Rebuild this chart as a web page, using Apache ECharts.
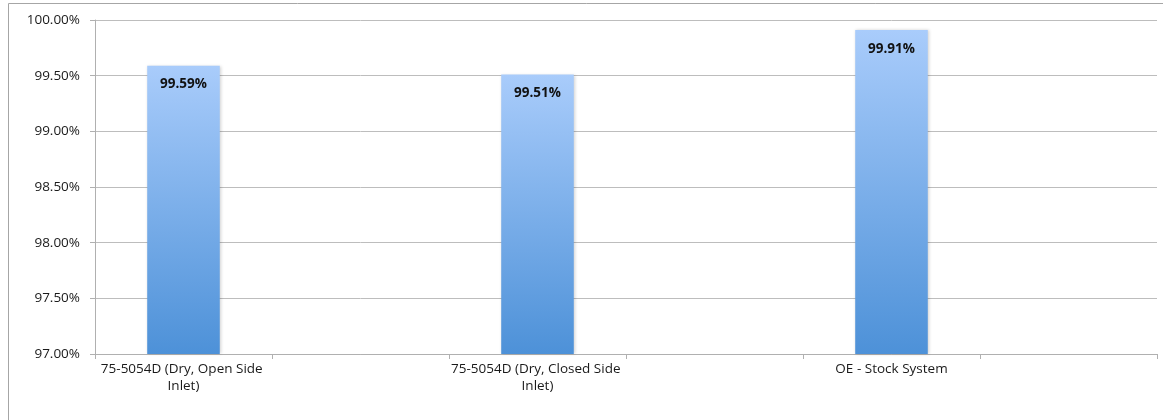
<!DOCTYPE html>
<html>
<head>
<meta charset="utf-8">
<script src="https://cdn.jsdelivr.net/npm/echarts@6/dist/echarts.min.js"></script>
<style>
  html, body { margin: 0; padding: 0; background: #fff; }
  #chart { width: 1163px; height: 420px; }
</style>
</head>
<body>
<div id="chart"></div>
<script>
// Categories: spacer slots keep each bar centred in a wide band
const categories = ['75-5054D (Dry, Open Side Inlet)', '', '75-5054D (Dry, Closed Side Inlet)', '', 'OE - Stock System', ''];
const values = [99.59, null, 99.51, null, 99.91, null];
const yTicks = { min: 97, max: 100, step: 0.5 };

const font = '"Open Sans", "Liberation Sans", sans-serif';
const chart = echarts.init(document.getElementById('chart'), null, { renderer: 'canvas' });

chart.setOption({
  animation: false,
  graphic: [{
    type: 'rect',
    shape: { x: 8.5, y: 3.5, width: 1200, height: 500 },
    style: { fill: 'none', stroke: '#a6a6a6', lineWidth: 1 },
    silent: true,
    z: -1
  }],
  grid: { left: 95, top: 20, width: 1062, height: 334, containLabel: false },
  xAxis: {
    type: 'category',
    data: categories,
    boundaryGap: true,
    axisLine: { lineStyle: { color: '#b0b0b0', width: 1 } },
    axisTick: { show: true, interval: 0, length: 5, lineStyle: { color: '#b0b0b0' } },
    axisLabel: {
      interval: 0,
      margin: 7,
      width: 178,
      overflow: 'break',
      lineHeight: 17,
      fontSize: 13.5,
      fontFamily: font,
      color: '#1a1a1a'
    },
    splitLine: { show: false }
  },
  yAxis: {
    type: 'value',
    min: yTicks.min,
    max: yTicks.max,
    interval: yTicks.step,
    axisLine: { show: true, lineStyle: { color: '#b0b0b0', width: 1 } },
    axisTick: { show: true, length: 5, lineStyle: { color: '#b0b0b0' } },
    axisLabel: {
      margin: 15,
      fontSize: 13.5,
      fontFamily: font,
      color: '#1a1a1a',
      formatter: v => v.toFixed(2) + '%'
    },
    splitLine: { lineStyle: { color: '#bdbdbd', width: 1 } }
  },
  series: [{
    type: 'bar',
    data: values,
    barWidth: '41%',
    itemStyle: {
      color: new echarts.graphic.LinearGradient(0, 0, 0, 1, [
        { offset: 0, color: '#a9ccfb' },
        { offset: 1, color: '#4d91d8' }
      ]),
      shadowColor: 'rgba(0,0,0,0.18)',
      shadowBlur: 3,
      shadowOffsetX: 1,
      shadowOffsetY: 0
    },
    label: {
      show: true,
      position: 'insideTop',
      distance: 12,
      fontSize: 13.5,
      fontWeight: 'bold',
      fontFamily: font,
      color: '#111',
      formatter: p => p.value.toFixed(2) + '%'
    }
  }]
});
</script>
</body>
</html>
